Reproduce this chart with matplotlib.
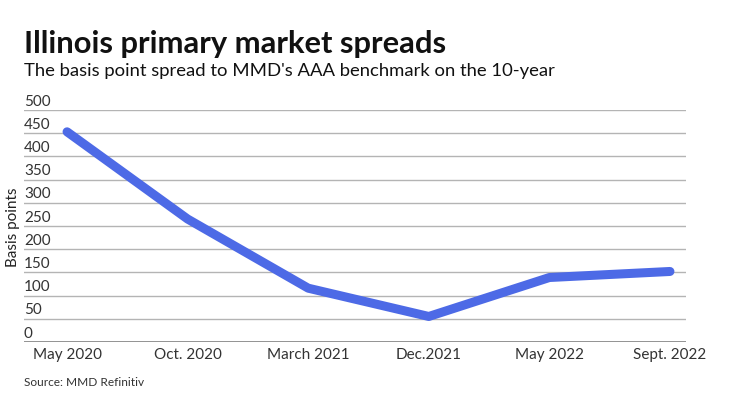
import matplotlib
matplotlib.use("Agg")
import matplotlib.pyplot as plt

# values
periods = ["May 2020", "Oct. 2020", "March 2021", "Dec.2021", "May 2022", "Sept. 2022"]
spread_bp = [453, 265, 116, 55, 139, 152]
y_ticks = [0, 50, 100, 150, 200, 250, 300, 350, 400, 450, 500]

plt.rcParams['font.family'] = ['Lato', 'DejaVu Sans']

W, H = 740, 416
fig = plt.figure(figsize=(W / 100, H / 100), dpi=100)
ax = fig.add_axes([24 / W, 1 - 342 / H, (686 - 24) / W, (342 - 110) / H])

x = list(range(len(periods)))
ax.plot(x, spread_bp, color='#4d6ae6', linewidth=6.5, solid_capstyle='round',
        solid_joinstyle='round', zorder=3)

ax.set_xlim(-0.357, 5.133)
ax.set_ylim(0, 500)

# horizontal grid lines
for v in y_ticks[1:]:
    ax.axhline(v, color='#b4b4b4', linewidth=1, zorder=1)
ax.axhline(0, color='#8a8a8a', linewidth=1.3, zorder=2)

# y labels sit just above their grid lines
for v in y_ticks:
    ax.text(0, v + 3, str(v), transform=ax.get_yaxis_transform(),
            ha='left', va='bottom', fontsize=11, color='#333333')

for s in ax.spines.values():
    s.set_visible(False)
ax.set_yticks([])
ax.set_xticks(x)
ax.set_xticklabels(periods, fontsize=11, color='#333333')
ax.tick_params(axis='x', length=0, pad=4)

fig.text(13 / W, 1 - 227 / H, "Basis points", rotation=90, ha='center', va='center',
         fontsize=11, color='#222222')

fig.text(24 / W, 1 - 44 / H, "Illinois primary market spreads", ha='left', va='center',
         fontsize=22.2, fontweight='bold', color='#111111')
fig.text(24 / W, 1 - 71 / H, "The basis point spread to MMD's AAA benchmark on the 10-year",
         ha='left', va='center', fontsize=13.3, color='#111111')
fig.text(24 / W, 1 - 383 / H, "Source: MMD Refinitiv", ha='left', va='center',
         fontsize=8.6, color='#333333')

fig.savefig("out.png", dpi=100)
